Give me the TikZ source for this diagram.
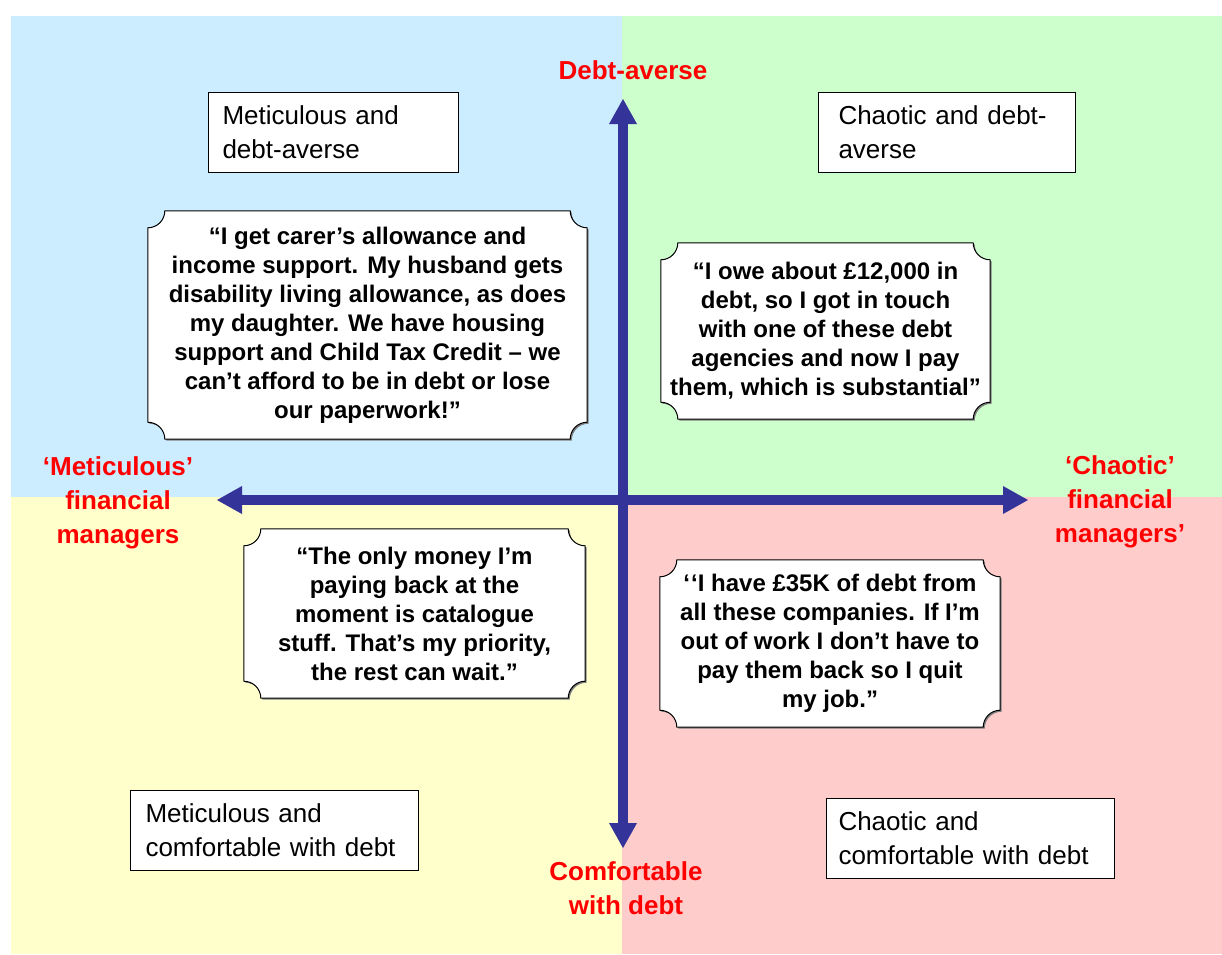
\documentclass[tikz,border=0pt]{standalone}
\usepackage{fontspec}
\setmainfont{Liberation Sans}
\usetikzlibrary{calc,arrows.meta,shadows}

\definecolor{qblue}{RGB}{204,236,255}
\definecolor{qgreen}{RGB}{204,255,204}
\definecolor{qyellow}{RGB}{255,255,204}
\definecolor{qpink}{RGB}{255,204,204}
\definecolor{axisblue}{RGB}{51,51,153}

\pgfdeclarelayer{back}
\pgfdeclarelayer{mid}
\pgfsetlayers{back,mid,main}

% plaque outline (concave corners) around a named node
\newcommand\plqr{17pt}
\newcommand\plqc{9.4pt}
\newcommand\plaquepath[1]{%
  ($(#1.north west)+(\plqr,0pt)$) -- ($(#1.north east)+(-\plqr,0pt)$)
  .. controls ($(#1.north east)+(-\plqr,-\plqc)$) and ($(#1.north east)+(-\plqc,-\plqr)$) .. ($(#1.north east)+(0pt,-\plqr)$)
  -- ($(#1.south east)+(0pt,\plqr)$)
  .. controls ($(#1.south east)+(-\plqc,\plqr)$) and ($(#1.south east)+(-\plqr,\plqc)$) .. ($(#1.south east)+(-\plqr,0pt)$)
  -- ($(#1.south west)+(\plqr,0pt)$)
  .. controls ($(#1.south west)+(\plqr,\plqc)$) and ($(#1.south west)+(\plqc,\plqr)$) .. ($(#1.south west)+(0pt,\plqr)$)
  -- ($(#1.north west)+(0pt,-\plqr)$)
  .. controls ($(#1.north west)+(\plqc,-\plqr)$) and ($(#1.north west)+(\plqr,-\plqc)$) .. cycle}

\tikzset{
  quotebox/.style={inner sep=0pt, align=center,
    font=\fontsize{24}{29}\selectfont\bfseries},
  plaque/.style={draw=black, line width=1pt, fill=white,
    drop shadow={shadow xshift=1.5pt, shadow yshift=-1.5pt, fill=black!50, opacity=1}},
  labelbox/.style={draw=black, line width=1pt, fill=white, anchor=north west,
    align=left, inner ysep=0pt, minimum height=80pt,
    font=\fontsize{26}{34}\selectfont},
  redlabel/.style={text=red, inner sep=0pt, align=center,
    font=\fontsize{26}{34}\selectfont\bfseries},
  axis/.style={draw=axisblue, line width=10pt,
    {Triangle[length=25pt,width=28pt,line width=0pt]}-{Triangle[length=25pt,width=28pt,line width=0pt]}}
}

\begin{document}
\begin{tikzpicture}[x=1pt,y=-1pt]
\useasboundingbox (0,0) rectangle (1222,954);

% quadrant backgrounds
\begin{pgfonlayer}{back}
  \fill[white] (0,0) rectangle (1222,954);
  \fill[qblue]   (11,16)  rectangle (622,497);
  \fill[qgreen]  (622,16) rectangle (1222,497);
  \fill[qyellow] (11,497) rectangle (622,954);
  \fill[qpink]   (622,497) rectangle (1222,954);
\end{pgfonlayer}

% axes
\coordinate (ytop) at (623,99);
\coordinate (ybot) at (623,848);
\coordinate (xleft) at (217,500);
\coordinate (xright) at (1028,500);
\draw[axis] (ybot) -- (ytop);
\draw[axis] (xleft) -- (xright);

% axis labels
\node[redlabel] (debtaverse) at (633,70) {Debt-averse};
\node[redlabel] (meticulous) at (118,503) {‘Meticulous’\\financial\\managers};
\node[redlabel] (chaotic) at (1120,502) {‘Chaotic’\\financial\\managers’};
\node[redlabel] (comfortable) at (626,888) {Comfortable\\with debt};

% quadrant labels
\node[labelbox, minimum width=250pt, text width=222pt, inner xsep=14pt] (lab1) at (208,92) {Meticulous and\\debt-averse};
\node[labelbox, minimum width=257pt, text width=217pt, inner xsep=20pt] (lab2) at (818,92) {Chaotic and debt-\\averse};
\node[labelbox, minimum width=288pt, text width=258pt, inner xsep=15pt] (lab3) at (130,790) {Meticulous and\\comfortable with debt};
\node[labelbox, minimum width=288pt, text width=264pt, inner xsep=12pt] (lab4) at (826,798) {Chaotic and\\comfortable with debt};

% quotations
\node[quotebox, minimum width=439pt, minimum height=228pt] (q1) at (367.5,325)
  {“I get carer’s allowance and\\income support. My husband gets\\disability living allowance, as does\\my daughter. We have housing\\support and Child Tax Credit – we\\can’t afford to be in debt or lose\\our paperwork!”};
\node[quotebox, minimum width=329pt, minimum height=176pt] (q2) at (825.5,331)
  {“I owe about £12,000 in\\debt, so I got in touch\\with one of these debt\\agencies and now I pay\\them, which is substantial”};
\node[quotebox, minimum width=341pt, minimum height=169pt] (q3) at (414.5,613.5)
  {“The only money I’m\\paying back at the\\moment is catalogue\\stuff.  That’s my priority,\\the rest can wait.”};
\node[quotebox, minimum width=340pt, minimum height=167pt] (q4) at (830,643.5)
  {‘\kern1pt‘I have £35K of debt from\\all these companies. If I’m\\out of work I don’t have to\\pay them back so I quit\\my job.”};

\begin{pgfonlayer}{mid}
  \foreach \q in {q1,q2,q3,q4} {\path[plaque] \plaquepath{\q};}
\end{pgfonlayer}
\end{tikzpicture}
\end{document}
